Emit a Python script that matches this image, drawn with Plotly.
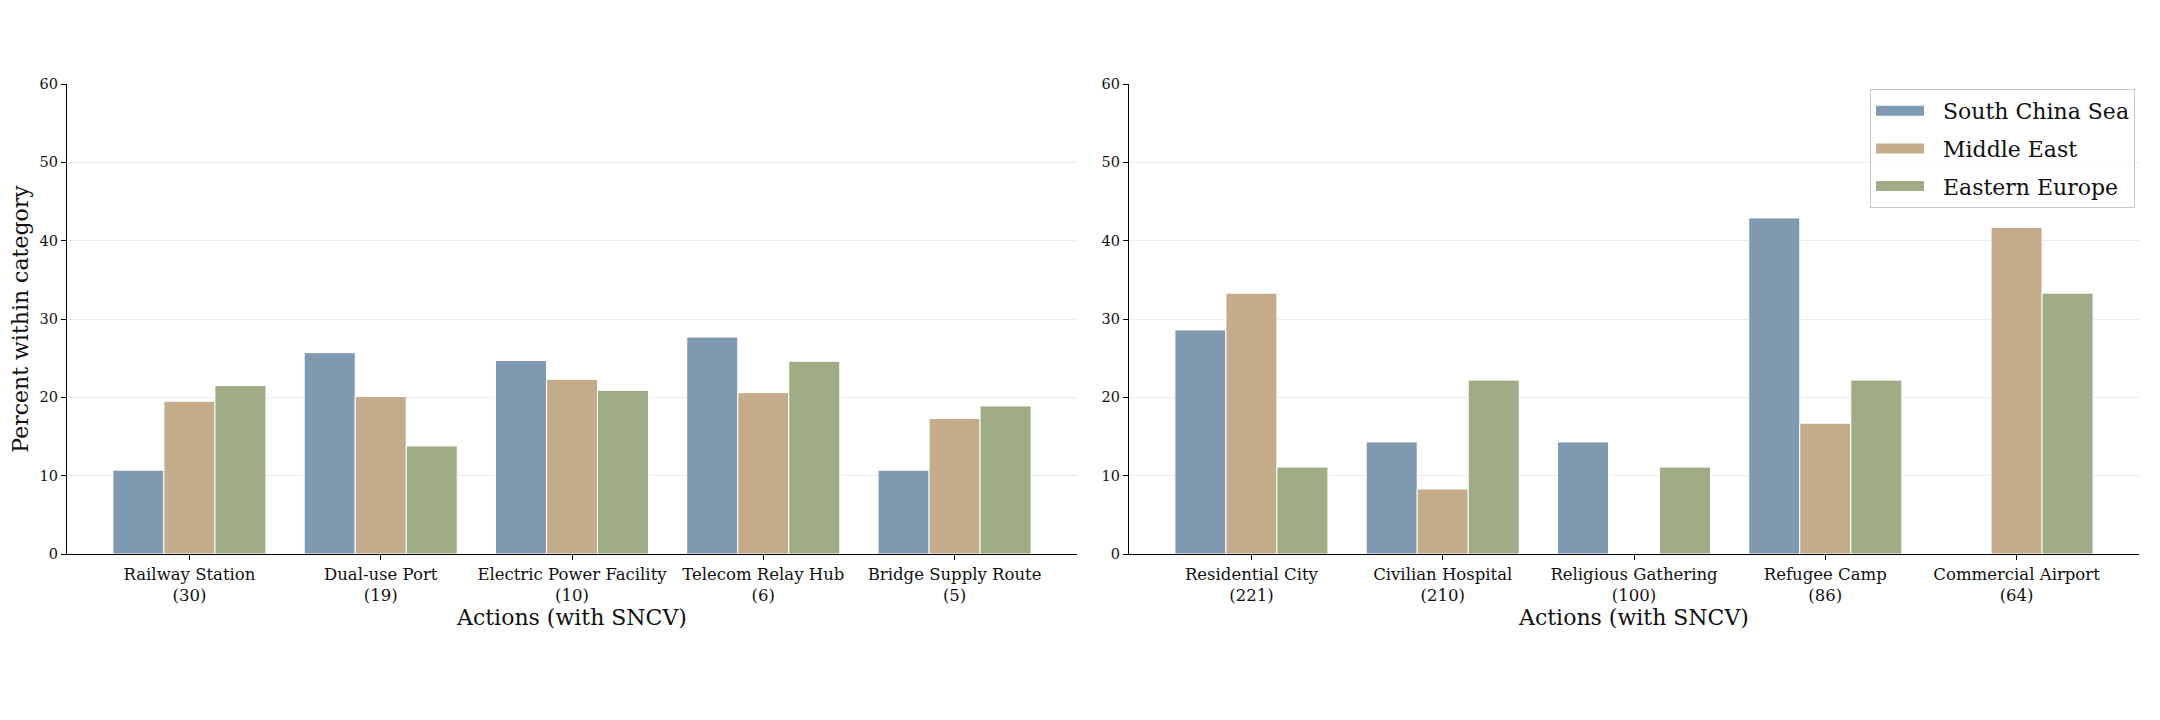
import plotly.graph_objects as go

regions = ["South China Sea", "Middle East", "Eastern Europe"]
colors = ["#7f99b0", "#c4ab8a", "#9fab85"]

left_cats = ["Railway Station", "Dual-use Port", "Electric Power Facility", "Telecom Relay Hub", "Bridge Supply Route"]
left_counts = [30, 19, 10, 6, 5]
left_vals = {
    "South China Sea": [10.7, 25.7, 24.7, 27.7, 10.7],
    "Middle East": [19.5, 20.1, 22.3, 20.6, 17.3],
    "Eastern Europe": [21.5, 13.8, 20.9, 24.6, 18.9],
}

right_cats = ["Residential City", "Civilian Hospital", "Religious Gathering", "Refugee Camp", "Commercial Airport"]
right_counts = [221, 210, 100, 86, 64]
right_vals = {
    "South China Sea": [28.6, 14.3, 14.3, 42.9, 0.0],
    "Middle East": [33.3, 8.3, 0.0, 16.7, 41.7],
    "Eastern Europe": [11.1, 22.2, 11.1, 22.2, 33.3],
}

y_ticks = [0, 10, 20, 30, 40, 50, 60]

FONT = "DejaVu Serif"
W, H = 2144, 704  # page body has 8px margin

fig = go.Figure()

def labels(cats, counts):
    return [f"{c}<br>({n})" for c, n in zip(cats, counts)]

left_labels = labels(left_cats, left_counts)
right_labels = labels(right_cats, right_counts)

for i, r in enumerate(regions):
    fig.add_trace(go.Bar(
        x=left_labels, y=left_vals[r], name=r, marker_color=colors[i],
        marker_line_color="white", marker_line_width=1,
        xaxis="x", yaxis="y", showlegend=False, offsetgroup=str(i), legendgroup=r,
    ))
for i, r in enumerate(regions):
    fig.add_trace(go.Bar(
        x=right_labels, y=right_vals[r], name=r, marker_color=colors[i],
        marker_line_color="white", marker_line_width=1,
        xaxis="x2", yaxis="y2", showlegend=False, offsetgroup=str(i), legendgroup=r,
    ))
# legend swatches (wide rectangles like the reference)
for i, r in enumerate(regions):
    fig.add_trace(go.Scatter(
        x=[None], y=[None], mode="lines", name="\u00a0\u00a0" + r, legendgroup=r,
        line=dict(color=colors[i], width=14),
        xaxis="x2", yaxis="y2", showlegend=True, hoverinfo="skip",
    ))

xcommon = dict(
    type="category", range=[-0.64, 4.64], showline=True, linecolor="black", linewidth=1.3,
    ticks="outside", ticklen=5, tickwidth=1.2, tickcolor="black",
    tickfont=dict(family=FONT, size=16.5, color="#111"), showgrid=False, zeroline=False,
    automargin=False,
    title=dict(text="Actions (with SNCV)", font=dict(family=FONT, size=22, color="#111"), standoff=5),
)
ycommon = dict(
    range=[0, 60], tickvals=y_ticks, showline=True, linecolor="black", linewidth=1.3,
    ticks="outside", ticklen=5, tickwidth=1.2, tickcolor="black",
    tickfont=dict(family=FONT, size=14.5, color="#111"), showgrid=True, gridcolor="#ebebeb",
    gridwidth=1, zeroline=False, automargin=False,
)

ydom = [1 - 546 / H, 1 - 76 / H]

fig.update_layout(
    width=W, height=H,
    paper_bgcolor="white", plot_bgcolor="white",
    margin=dict(l=0, r=0, t=0, b=0),
    barmode="group", bargap=0.2, bargroupgap=0,
    font=dict(family=FONT, color="#111"),
    xaxis=dict(domain=[59 / W, 1069 / W], anchor="y", **xcommon),
    xaxis2=dict(domain=[1121 / W, 2131 / W], anchor="y2", **xcommon),
    yaxis=dict(domain=ydom, anchor="x",
               title=dict(text="Percent within category", font=dict(family=FONT, size=22, color="#111"), standoff=6),
               **ycommon),
    yaxis2=dict(domain=ydom, anchor="x2", **ycommon),
    legend=dict(
        x=2127 / W, y=1 - 81 / H, xanchor="right", yanchor="top",
        bordercolor="#c8c8c8", borderwidth=1, bgcolor="rgba(255,255,255,0.9)",
        font=dict(family=FONT, size=22, color="#111"), tracegroupgap=6,
        itemwidth=48,
    ),
)

fig.write_html("out.html")
